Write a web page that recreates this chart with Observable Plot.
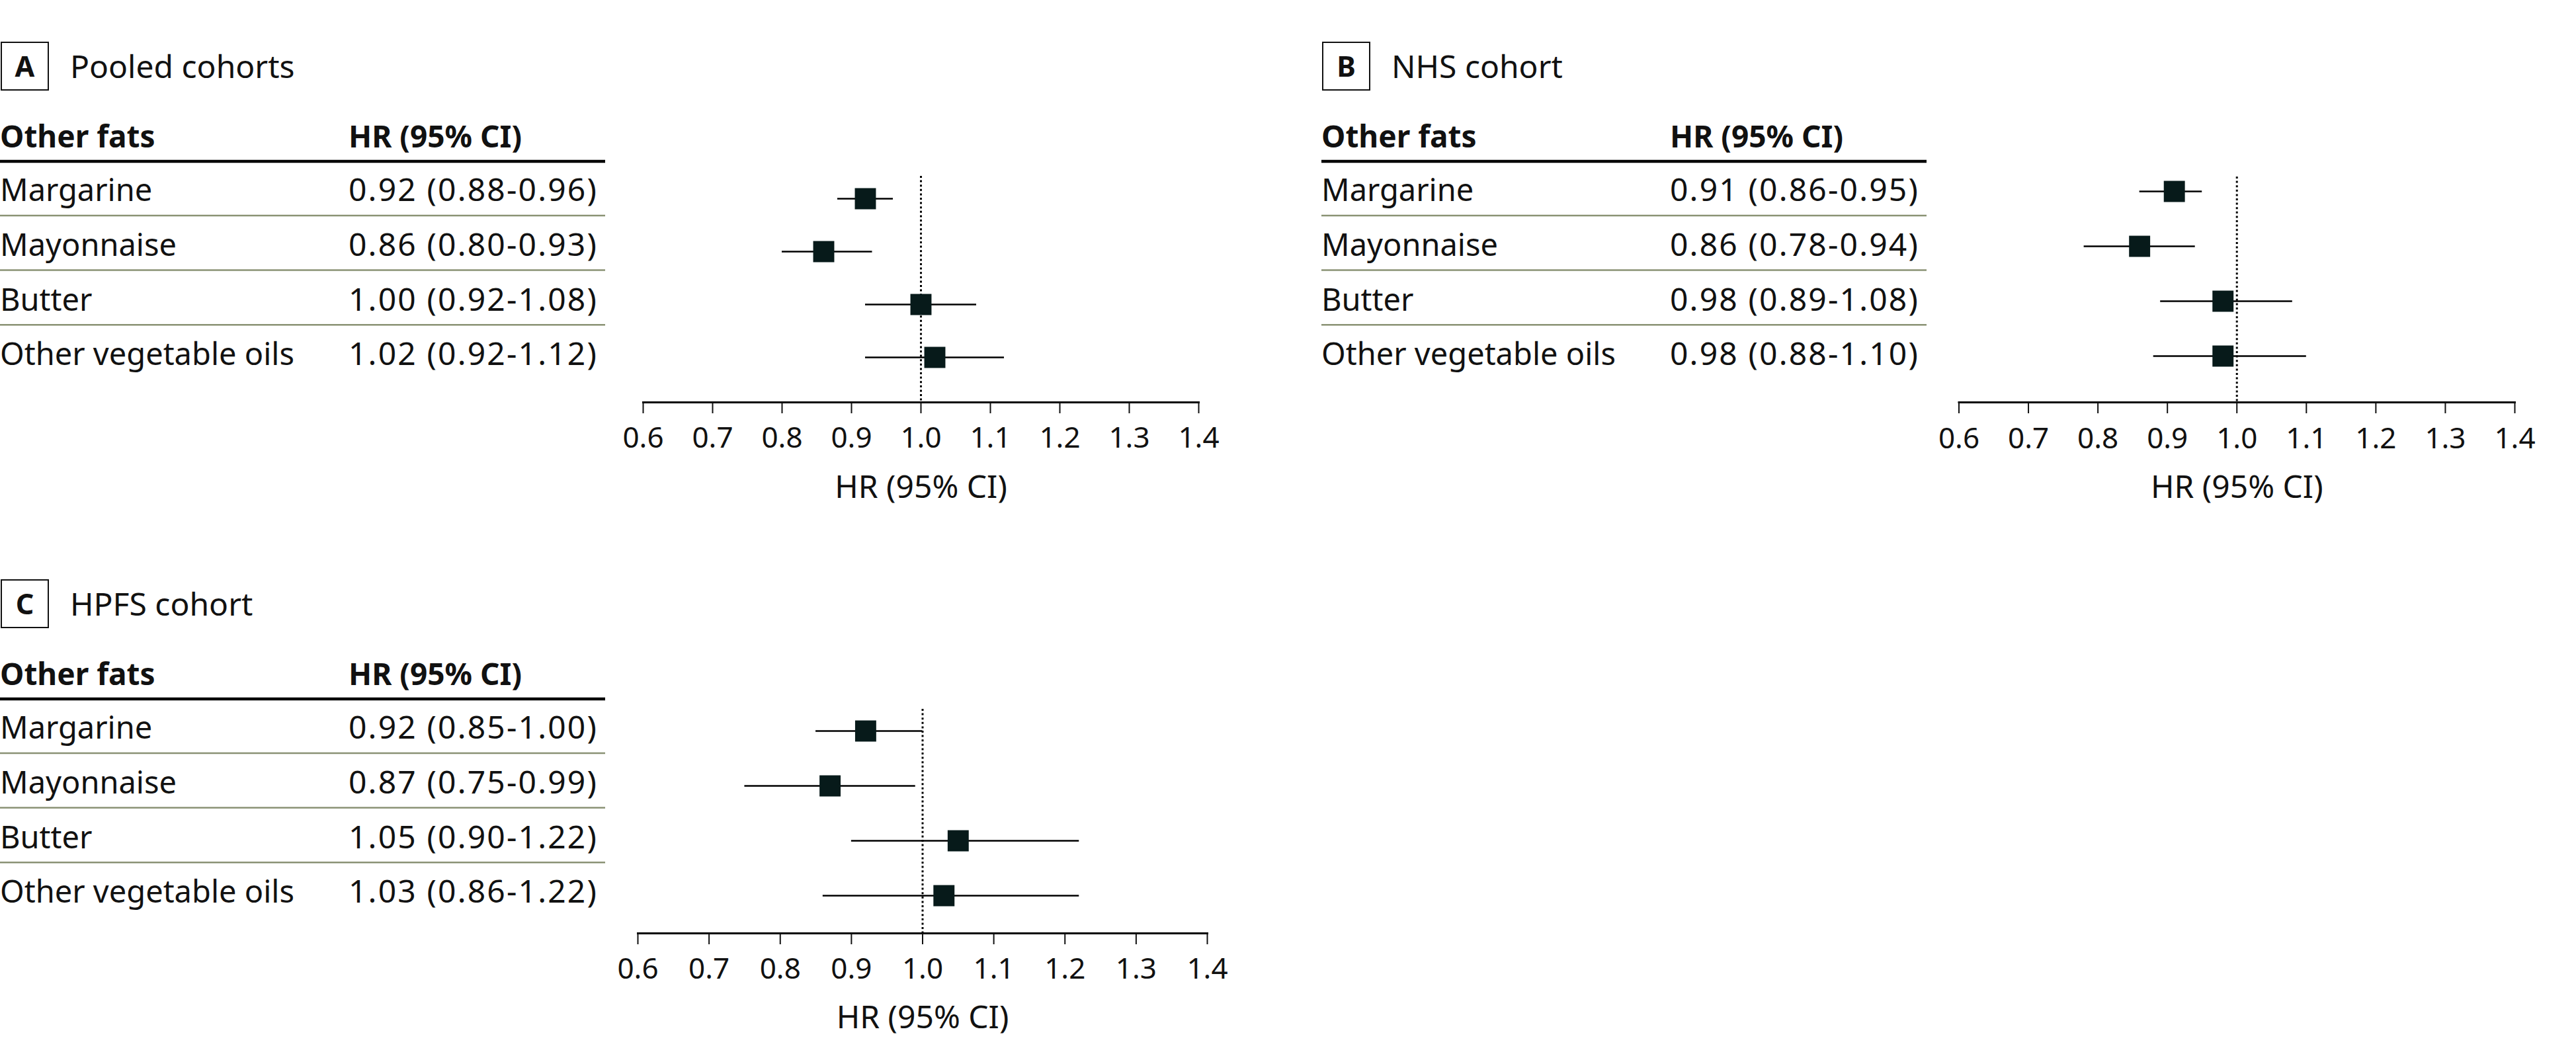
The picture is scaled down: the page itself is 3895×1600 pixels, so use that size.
<!DOCTYPE html>
<html>
<head>
<meta charset="utf-8">
<script src="https://cdn.jsdelivr.net/npm/d3@7"></script>
<script src="https://cdn.jsdelivr.net/npm/@observablehq/plot@0.6"></script>
<style>
  html, body { margin: 0; padding: 0; background: #fff; }
  #page { position: relative; width: 3895px; height: 1600px; overflow: hidden; background: #fff; font-family: "Noto Sans", sans-serif; }
  #page > svg.table { position: absolute; left: 0; top: 0; }
  .chart { position: absolute; }
</style>
</head>
<body>
<div id="page"></div>
<script>
// ---------------- data ----------------
const categories = ["Margarine", "Mayonnaise", "Butter", "Other vegetable oils"];

const pooledHR   = [0.92, 0.86, 1.00, 1.02];
const pooledLow  = [0.88, 0.80, 0.92, 0.92];
const pooledHigh = [0.96, 0.93, 1.08, 1.12];

const nhsHR   = [0.91, 0.86, 0.98, 0.98];
const nhsLow  = [0.86, 0.78, 0.89, 0.88];
const nhsHigh = [0.95, 0.94, 1.08, 1.10];

const hpfsHR   = [0.92, 0.87, 1.05, 1.03];
const hpfsLow  = [0.85, 0.75, 0.90, 0.86];
const hpfsHigh = [1.00, 0.99, 1.22, 1.22];

const xTicks = [0.6, 0.7, 0.8, 0.9, 1.0, 1.1, 1.2, 1.3, 1.4];
const panelLetters = ["A", "B", "C"];
const panelTitles = ["Pooled cohorts", "NHS cohort", "HPFS cohort"];
const colHeaders = ["Other fats", "HR (95% CI)"];
const axisTitle = "HR (95% CI)";

// ---------------- layout ----------------
const FONT = "Noto Sans";
const INK = "#111";
const SQUARE = "#071a1a";
const SEP = "#8a9274";
const VALUE_X = 527, VALUE_W = 377;

const panels = [
  {hr: pooledHR, lo: pooledLow, hi: pooledHigh, ox: 0, oy: 0,
   chart: {left: 880, top: 246, width: 1000, height: 540, mL: 92, mR: 68, mT: 20, mB: 178, yr: [52.6, 294.9], tickBase: 68, titleBase: 144}},
  {hr: nhsHR, lo: nhsLow, hi: nhsHigh, ox: 1998, oy: 0,
   chart: {left: 2880, top: 247, width: 1000, height: 540, mL: 81.5, mR: 78, mT: 20, mB: 179, yr: [41.7, 291.5], tickBase: 69, titleBase: 144}},
  {hr: hpfsHR, lo: hpfsLow, hi: hpfsHigh, ox: 0, oy: 813,
   chart: {left: 880, top: 1052, width: 1000, height: 540, mL: 84, mR: 55, mT: 20, mB: 181, yr: [52, 303], tickBase: 68, titleBase: 143}}
];

const page = document.getElementById("page");
const svg = d3.select(page).append("svg").attr("class", "table")
  .attr("width", 3895).attr("height", 1600)
  .style("font-family", FONT);

const fmt2 = d3.format(".2f");

panels.forEach((p, k) => {
  const g = svg.append("g").attr("transform", `translate(${p.ox},${p.oy})`).attr("fill", INK);
  // panel letter box
  g.append("rect").attr("x", 2).attr("y", 64).attr("width", 71).attr("height", 72)
    .attr("fill", "none").attr("stroke", INK).attr("stroke-width", 2);
  g.append("text").attr("x", 37.5).attr("y", 116).attr("text-anchor", "middle")
    .attr("font-weight", 700).attr("font-size", 43).text(panelLetters[k]);
  g.append("text").attr("x", 106).attr("y", 118).attr("font-size", 48).text(panelTitles[k]);
  // column headers
  g.append("text").attr("x", 0).attr("y", 222.5).attr("font-weight", 700).attr("font-size", 46).text(colHeaders[0]);
  g.append("text").attr("x", VALUE_X).attr("y", 222.5).attr("font-weight", 700).attr("font-size", 46).text(colHeaders[1]);
  g.append("line").attr("x1", 0).attr("x2", 915).attr("y1", 244).attr("y2", 244)
    .attr("stroke", "#000").attr("stroke-width", 4.5);
  // rows
  categories.forEach((c, i) => {
    const base = 304 + 82.8 * i;
    g.append("text").attr("x", 0).attr("y", base).attr("font-size", 47).text(c);
    const label = `${fmt2(p.hr[i])} (${fmt2(p.lo[i])}-${fmt2(p.hi[i])})`;
    const t = g.append("text").attr("x", VALUE_X).attr("y", base).attr("font-size", 48).text(label);
    const w = t.node().getComputedTextLength();
    const ls = Math.max(0, (VALUE_W - w) / label.length);
    t.attr("letter-spacing", ls.toFixed(2));
    if (i < categories.length - 1) {
      const sy = 326 + 82.6 * i;
      g.append("line").attr("x1", 0).attr("x2", 915).attr("y1", sy).attr("y2", sy)
        .attr("stroke", SEP).attr("stroke-width", 2.5);
    }
  });

  // forest plot
  const data = categories.map((c, i) => ({name: c, hr: p.hr[i], lo: p.lo[i], hi: p.hi[i]}));
  const L = p.chart;
  const chart = Plot.plot({
    width: L.width, height: L.height,
    marginLeft: L.mL, marginRight: L.mR, marginTop: L.mT, marginBottom: L.mB,
    style: {fontFamily: FONT, color: INK, background: "transparent", overflow: "visible"},
    x: {domain: [0.6, 1.4]},
    y: {type: "point", domain: categories, range: L.yr, padding: 0, axis: null},
    marks: [
      Plot.ruleX([1], {stroke: "#000", strokeWidth: 3, strokeDasharray: "3,3.6"}),
      Plot.ruleY(data, {y: "name", x1: "lo", x2: "hi", stroke: "#000", strokeWidth: 2.5}),
      Plot.dot(data, {x: "hr", y: "name", symbol: "square", r: 18, fill: SQUARE, stroke: null}),
      Plot.frame({anchor: "bottom", stroke: "#000", strokeWidth: 3}),
      Plot.axisX({ticks: xTicks, tickFormat: d3.format(".1f"), tickSize: 17, tickPadding: L.tickBase - 17 - 31, fontSize: 44, strokeWidth: 2, label: null}),
      Plot.axisX({ticks: [], label: axisTitle, labelAnchor: "center", labelArrow: "none", labelOffset: L.titleBase, fontSize: 48})
    ]
  });
  chart.classList.add("chart");
  chart.style.left = L.left + "px";
  chart.style.top = L.top + "px";
  page.appendChild(chart);
});
</script>
</body>
</html>
